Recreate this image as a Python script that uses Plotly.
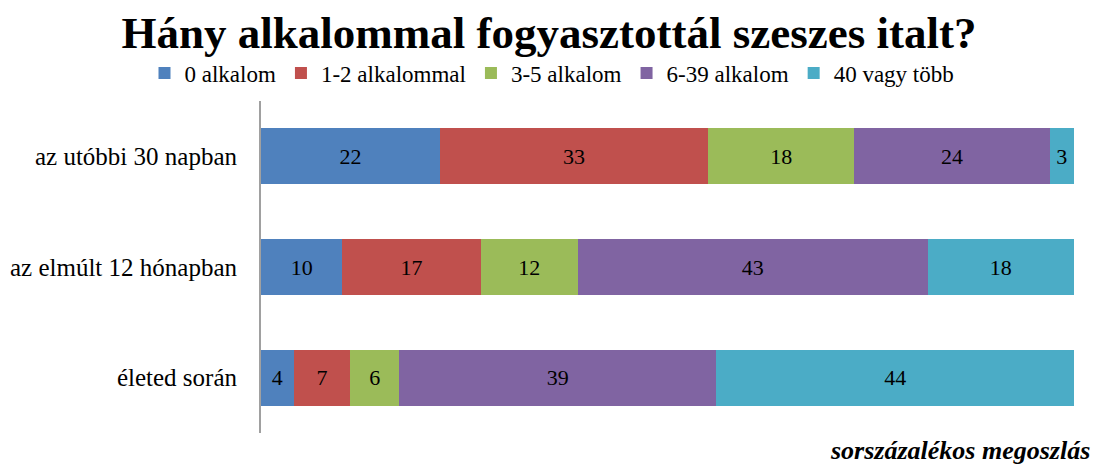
import plotly.graph_objects as go

categories = ["az utóbbi 30 napban", "az elmúlt 12 hónapban", "életed során"]
series_names = ["0 alkalom", "1-2 alkalommal", "3-5 alkalom", "6-39 alkalom", "40 vagy több"]
values_0 = [22, 10, 4]
values_1_2 = [33, 17, 7]
values_3_5 = [18, 12, 6]
values_6_39 = [24, 43, 39]
values_40 = [3, 18, 44]
series_values = [values_0, values_1_2, values_3_5, values_6_39, values_40]
colors = ["#4F81BD", "#C0504D", "#9BBB59", "#8064A2", "#4BACC6"]

SERIF = "Liberation Serif, Times New Roman, serif"
# page body has an 8px margin, so the figure is drawn 8px smaller and offset
OFF = 8
W, H = 1099 - OFF, 466 - OFF

fig = go.Figure()
for name, vals, col in zip(series_names, series_values, colors):
    fig.add_trace(go.Bar(
        y=categories, x=vals, orientation="h", name=name,
        marker=dict(color=col, line=dict(width=0)),
        text=[str(v) for v in vals], textposition="inside",
        insidetextanchor="middle", constraintext="none",
        textfont=dict(family=SERIF, size=22, color="black"),
        insidetextfont=dict(family=SERIF, size=22, color="black"),
        hovertemplate=name + ": %{x}<extra></extra>",
    ))

fig.update_layout(
    barmode="stack",
    bargap=0.495,
    width=W, height=H,
    margin=dict(l=261 - OFF, r=1099 - 1074, t=101 - OFF, b=466 - 433, autoexpand=False),
    paper_bgcolor="white", plot_bgcolor="white",
    font=dict(family=SERIF, color="black"),
    title=dict(text="<b>Hány alkalommal fogyasztottál szeszes italt?</b>",
               x=(549 - OFF) / W, xanchor="center", y=1 - (32 - OFF) / H, yanchor="middle",
               xref="container", yref="container",
               font=dict(family=SERIF, size=45, color="black")),
    legend=dict(orientation="h", x=(552 - OFF) / W, xanchor="center",
                y=1 - (73 - OFF) / H, yanchor="middle",
                xref="container", yref="container",
                font=dict(family=SERIF, size=23, color="black"),
                itemwidth=30, traceorder="normal", bgcolor="rgba(0,0,0,0)"),
    xaxis=dict(range=[0, 100], showgrid=False, zeroline=False, showticklabels=False,
               showline=False, fixedrange=True, automargin=False),
    yaxis=dict(categoryorder="array", categoryarray=categories[::-1],
               showgrid=False, zeroline=False, showline=True, linecolor="#A0A0A0",
               linewidth=2, ticks="", ticklabelstandoff=17, automargin=False,
               tickfont=dict(family=SERIF, size=25, color="black"), fixedrange=True),
    annotations=[dict(text="<b><i>sorszázalékos megoszlás</i></b>", xref="paper", yref="paper",
                      x=(1092 - 261) / 813, xanchor="right", y=-(450 - 433) / 332, yanchor="middle",
                      showarrow=False, font=dict(family=SERIF, size=26, color="black"))],
    showlegend=True,
)

fig.write_html("out.html")
